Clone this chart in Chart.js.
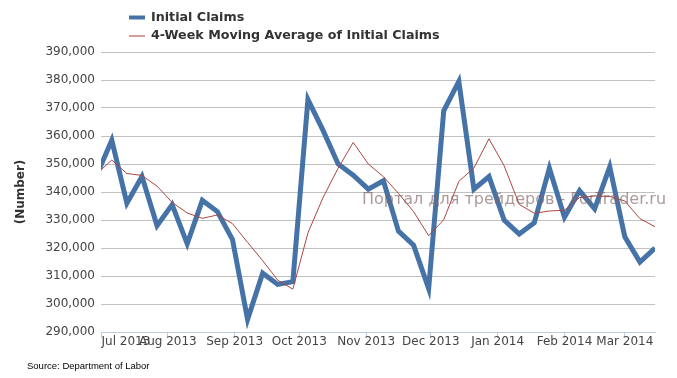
<!DOCTYPE html>
<html><head><meta charset="utf-8">
<script src="https://cdn.jsdelivr.net/npm/chart.js@4.4.0/dist/chart.umd.min.js"></script>
<style>html,body{margin:0;padding:0;background:#fff;overflow:hidden}canvas{display:block}</style>
</head><body>
<canvas id="c" width="677" height="378"></canvas>
<script>
const weekEnding = [
  '2013-06-29','2013-07-06','2013-07-13','2013-07-20','2013-07-27',
  '2013-08-03','2013-08-10','2013-08-17','2013-08-24','2013-08-31',
  '2013-09-07','2013-09-14','2013-09-21','2013-09-28',
  '2013-10-05','2013-10-12','2013-10-19','2013-10-26',
  '2013-11-02','2013-11-09','2013-11-16','2013-11-23','2013-11-30',
  '2013-12-07','2013-12-14','2013-12-21','2013-12-28',
  '2014-01-04','2014-01-11','2014-01-18','2014-01-25',
  '2014-02-01','2014-02-08','2014-02-15','2014-02-22',
  '2014-03-01','2014-03-08','2014-03-15'
];
const initialClaims = [
  346000, 358500, 336000, 345500, 328000,
  335500, 321500, 337000, 333000, 323000,
  294500, 311000, 307000, 308000,
  373000, 362000, 350000, 346000,
  341000, 344000, 326000, 321000, 305500,
  369000, 379500, 341000, 345500,
  330000, 325000, 329000, 348500,
  331000, 340500, 334000, 349000,
  324000, 315000, 320000
];
const movingAverage = [
  346500, 351400, 346600, 345900, 342100,
  336300, 332500, 330600, 331800, 328700,
  322000, 315500, 308500, 305300,
  325400, 338000, 348500, 357700,
  350000, 345500, 339500, 333000, 324400,
  330100, 343800, 348600, 359000,
  349400, 335600, 332400, 333200,
  333500, 338000, 338600, 338400,
  336800, 330500, 327600
];
const monthStarts = ['2013-07-01','2013-08-01','2013-09-01','2013-10-01','2013-11-01','2013-12-01','2014-01-01','2014-02-01','2014-03-01'];
const monthLabels = ['Jul 2013','Aug 2013','Sep 2013','Oct 2013','Nov 2013','Dec 2013','Jan 2014','Feb 2014','Mar 2014'];
const axisStart = '2013-07-01';
const axisEnd = '2014-03-15';
const yMin = 290000, yMax = 390000, yStep = 10000;
const seriesNames = ['Initial Claims', '4-Week Moving Average of Initial Claims'];
const yTitle = '(Number)';
const sourceText = 'Source: Department of Labor';
const watermarkText = 'Портал для трейдеров - ForTrader.ru';

const DAY = 86400000;
const dayOf = s => (Date.parse(s) - Date.parse(axisStart)) / DAY;

const BLUE = '#4572A7';
const RED = '#AA4643';
const FONT = 'DejaVu Sans';
Chart.defaults.font.family = FONT;

const tickFont = {family: FONT, size: 12};

const extras = {
  id: 'extras',
  beforeDraw(chart) {
    // place the first month label so it starts at the axis start
    const sx = chart.scales.x;
    const ctx = chart.ctx;
    ctx.save();
    ctx.font = '12px "' + FONT + '"';
    const w = ctx.measureText(monthLabels[0]).width;
    ctx.restore();
    const anchor = sx.ticks.find(t => t.anchor);
    if (anchor) {
      anchor.value = sx.getValueForPixel(sx.left + w / 2 + 0.5);
      sx._labelItems = null;
      sx._gridLineItems = null;
    }
  },
  afterDraw(chart) {
    const ctx = chart.ctx;
    ctx.save();
    // legend
    ctx.lineCap = 'butt';
    ctx.strokeStyle = BLUE; ctx.lineWidth = 4;
    ctx.beginPath(); ctx.moveTo(129, 17.5); ctx.lineTo(145, 17.5); ctx.stroke();
    ctx.strokeStyle = '#d49e9c'; ctx.lineWidth = 2;
    ctx.beginPath(); ctx.moveTo(129, 36); ctx.lineTo(145, 36); ctx.stroke();
    ctx.fillStyle = '#333';
    ctx.font = 'bold 12.7px "' + FONT + '"';
    ctx.textBaseline = 'middle';
    ctx.textAlign = 'left';
    ctx.fillText(seriesNames[0], 151, 17.5);
    ctx.fillText(seriesNames[1], 151, 36);
    // watermark
    ctx.font = '16px "' + FONT + '"';
    ctx.fillStyle = 'rgba(130,100,100,0.65)';
    ctx.fillText(watermarkText, 362, 200);
    // source
    ctx.font = '9.5px "Liberation Sans"';
    ctx.fillStyle = '#000';
    ctx.fillText(sourceText, 27, 366);
    ctx.restore();
  }
};

new Chart(document.getElementById('c'), {
  type: 'line',
  data: {
    datasets: [
      {
        label: seriesNames[0],
        data: weekEnding.map((d, i) => ({x: dayOf(d), y: initialClaims[i]})),
        borderColor: BLUE, backgroundColor: BLUE,
        borderWidth: 5, pointRadius: 0, pointHoverRadius: 0,
        tension: 0, clip: 0, order: 1
      },
      {
        label: seriesNames[1],
        data: weekEnding.map((d, i) => ({x: dayOf(d), y: movingAverage[i]})),
        borderColor: RED, backgroundColor: RED,
        borderWidth: 1, pointRadius: 0, pointHoverRadius: 0,
        tension: 0, clip: 0, order: 0
      }
    ]
  },
  options: {
    responsive: false,
    animation: false,
    events: [],
    layout: {padding: {left: 0, right: 22, top: 52, bottom: 16}},
    plugins: {legend: {display: false}, tooltip: {enabled: false}, title: {display: false}},
    scales: {
      x: {
        type: 'linear',
        min: 0, max: dayOf(axisEnd),
        afterFit: s => { s.height = 30; },
        afterBuildTicks: s => {
          const t = monthStarts.map((m, i) => ({value: dayOf(m), name: i === 0 ? '' : monthLabels[i]}));
          t.splice(1, 0, {value: 10, name: monthLabels[0], anchor: true});
          s.ticks = t;
        },
        grid: {
          drawOnChartArea: false, drawTicks: true, tickLength: 6,
          tickColor: c => (c.tick && c.tick.anchor) ? 'rgba(0,0,0,0)' : '#bccde0',
          color: '#bccde0'
        },
        border: {display: true, color: '#bccde0', width: 1},
        ticks: {
          autoSkip: false, maxRotation: 0, minRotation: 0,
          padding: -3, color: '#444', font: tickFont,
          callback: (v, i, t) => t[i].name
        }
      },
      y: {
        min: yMin, max: yMax,
        afterFit: s => { s.width = 101; },
        ticks: {
          stepSize: yStep, padding: 6, color: '#444', font: tickFont,
          callback: v => v.toLocaleString('en-US')
        },
        grid: {color: '#c0c0c0', drawTicks: false, lineWidth: 1},
        border: {display: false},
        title: {display: true, text: yTitle, color: '#333', font: {family: FONT, size: 12, weight: 'bold'}, padding: {top: 14, bottom: 0}}
      }
    }
  },
  plugins: [extras]
});
</script></body></html>
